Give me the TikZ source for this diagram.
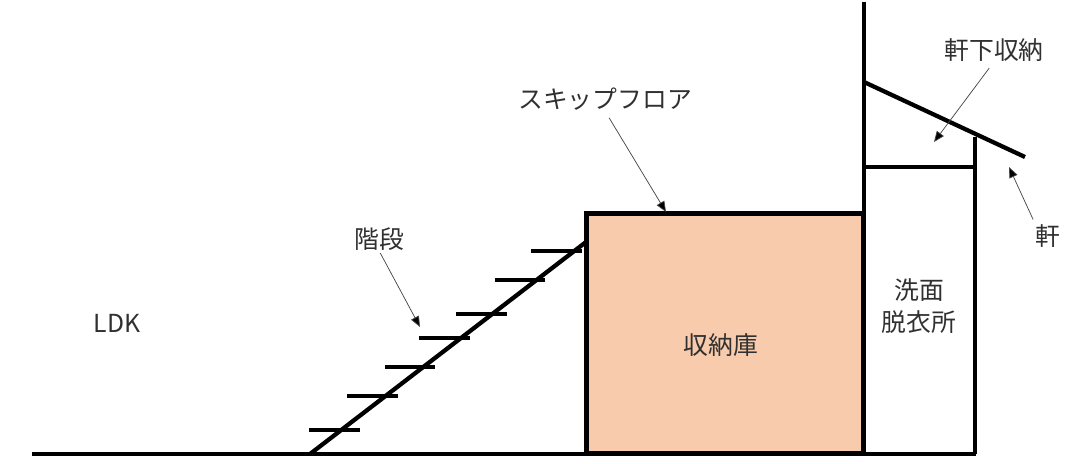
\documentclass[tikz,border=0pt]{standalone}
\usepackage{fontspec}
\setmainfont{Noto Sans CJK JP}
\usetikzlibrary{arrows.meta}
\definecolor{storagefill}{RGB}{248,203,173}
\definecolor{leader}{RGB}{70,70,70}
\tikzstyle{wall} = [line width=3.2pt, line cap=butt]
\tikzstyle{tread} = [line width=2.6pt]
\tikzstyle{arrow} = [line width=0.55pt, draw=leader, -{Triangle[length=8pt,width=6.5pt,fill=black]}]
\tikzstyle{label} = [inner sep=0pt, align=center, font=\fontsize{18.6pt}{24pt}\selectfont\addfontfeature{Color=303030}]
\tikzstyle{storage} = [rectangle, draw=black, fill=storagefill, line width=3.2pt, minimum width=207.75pt, minimum height=180pt, inner sep=0pt]
\begin{document}
\begin{tikzpicture}[x=0.75pt,y=-0.75pt]
\useasboundingbox (0,0) rectangle (1076,464);
%----------------------------------------------------------------------------
% Placement of labels
\node (storageBox) [storage] at (725,333.5) {};
\node (ldkLabel) [label] at (117,323) {LDK};
\node (storageLabel) [label] at (721,345) {収納庫};
\node (washLabel) [label] at (919,306) {洗面\\脱衣所};
\node (stairLabel) [label] at (379,239) {階段};
\node (skipLabel) [label] at (605,99.5) {スキップフロア};
\node (atticLabel) [label] at (994,50) {軒下収納};
\node (eaveLabel) [label] at (1048,236) {軒};

\coordinate (stairTip) at (420,327);
\coordinate (skipTip) at (666,212);
\coordinate (atticTip) at (934,142);
\coordinate (eaveTip) at (1009,167);

%----------------------------------------------------------------------------
% Walls and floor
\draw [wall] (32,454) -- (976,454);
\draw [wall] (864,2) -- (864,454);
\draw [wall] (975,137) -- (975,454);
\draw [wall] (864,167) -- (975,167);
\draw [wall] (864,82) -- (1025,157);

%----------------------------------------------------------------------------
% Stairs
\draw [wall] (310,454) -- (586,242);
\draw [tread] (309,430) -- (360,430);
\draw [tread] (347,396) -- (398,396);
\draw [tread] (385,367) -- (435,367);
\draw [tread] (419,338) -- (470,338);
\draw [tread] (456,314) -- (507,314);
\draw [tread] (495,280) -- (545,280);
\draw [tread] (531,251) -- (582,251);

%----------------------------------------------------------------------------
% Draw leader lines
\draw [arrow, shorten <=2pt] (stairLabel.south) -- (stairTip);
\draw [arrow, shorten <=6pt] (skipLabel.south) -- (skipTip);
\draw [arrow, shorten <=6pt] (atticLabel.south) -- (atticTip);
\draw [arrow, shorten <=4pt] (eaveLabel.north west) -- (eaveTip);

\end{tikzpicture}
\end{document}
